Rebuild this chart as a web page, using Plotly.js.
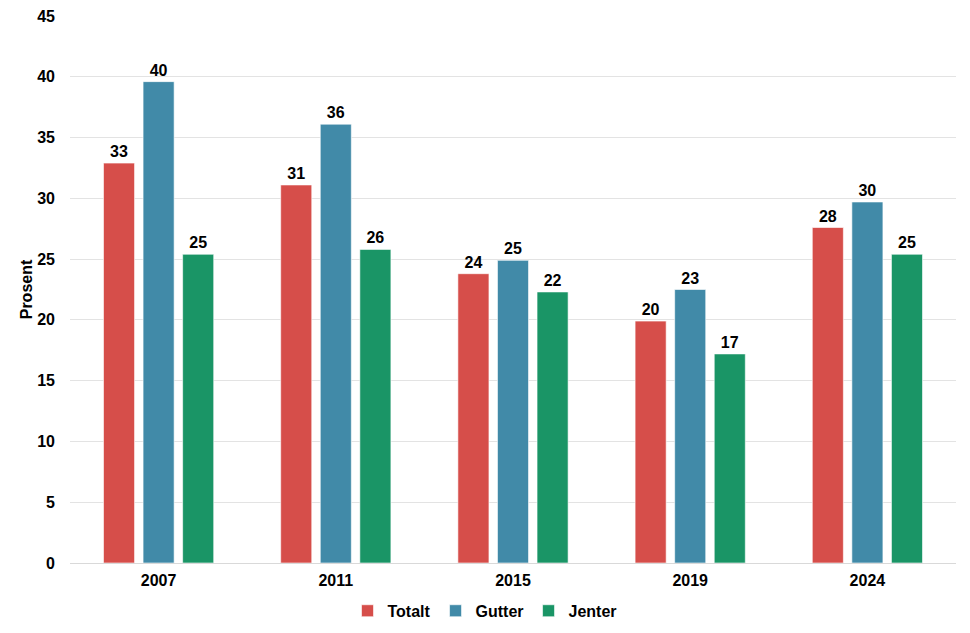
<!DOCTYPE html>
<html>
<head>
<meta charset="utf-8">
<script src="https://cdn.plot.ly/plotly-3.0.1.min.js"></script>
<style>html,body{margin:0;padding:0;background:#fff;}#chart{width:970px;height:633px;}</style>
</head>
<body>
<div id="chart"></div>
<script>
const years = ['2007', '2011', '2015', '2019', '2024'];
const totalt = [32.9, 31.1, 23.8, 19.9, 27.6];
const gutter = [39.6, 36.1, 24.9, 22.5, 29.7];
const jenter = [25.4, 25.8, 22.3, 17.2, 25.4];
const seriesNames = ['Totalt', 'Gutter', 'Jenter'];
const seriesColors = ['#D64E4A', '#418AA8', '#1A9566'];
const seriesValues = [totalt, gutter, jenter];

const fam = 'Liberation Sans, Arial, sans-serif';
const boldFont = {family: fam, size: 16, color: '#000', weight: 'bold'};

const traces = seriesValues.map((vals, i) => ({
  type: 'bar',
  name: seriesNames[i],
  x: years,
  y: vals,
  marker: {color: seriesColors[i], line: {color: 'rgba(255,255,255,0.6)', width: 1}},
  texttemplate: '%{y:.0f}',
  textposition: 'outside',
  textfont: boldFont,
  cliponaxis: false,
  hoverinfo: 'skip'
}));

const layout = {
  width: 970,
  height: 633,
  margin: {l: 70, r: 14, t: 16, b: 70, autoexpand: false},
  paper_bgcolor: '#fff',
  plot_bgcolor: '#fff',
  barmode: 'group',
  bargap: 0.33,
  bargroupgap: 0.215,
  font: {family: fam, size: 16, color: '#000'},
  showlegend: true,
  legend: {
    orientation: 'h',
    x: 0.5, xanchor: 'center', xref: 'container',
    y: 0.035, yanchor: 'middle', yref: 'container',
    font: boldFont,
    itemwidth: 30,
    traceorder: 'normal'
  },
  xaxis: {
    type: 'category',
    tickfont: boldFont,
    showline: true,
    linecolor: '#d9d9d9',
    linewidth: 1,
    ticks: '',
    ticklabelstandoff: 3,
    showgrid: false,
    fixedrange: true
  },
  yaxis: {
    range: [0, 45],
    dtick: 5,
    tickfont: boldFont,
    gridcolor: '#e3e3e3',
    gridwidth: 1,
    zeroline: false,
    ticks: '',
    ticklabelstandoff: 14,
    automargin: false,
    title: {text: 'Prosent', font: boldFont, standoff: 0},
    fixedrange: true
  }
};

Plotly.newPlot('chart', traces, layout, {displayModeBar: false, staticPlot: true});
</script>
</body>
</html>
